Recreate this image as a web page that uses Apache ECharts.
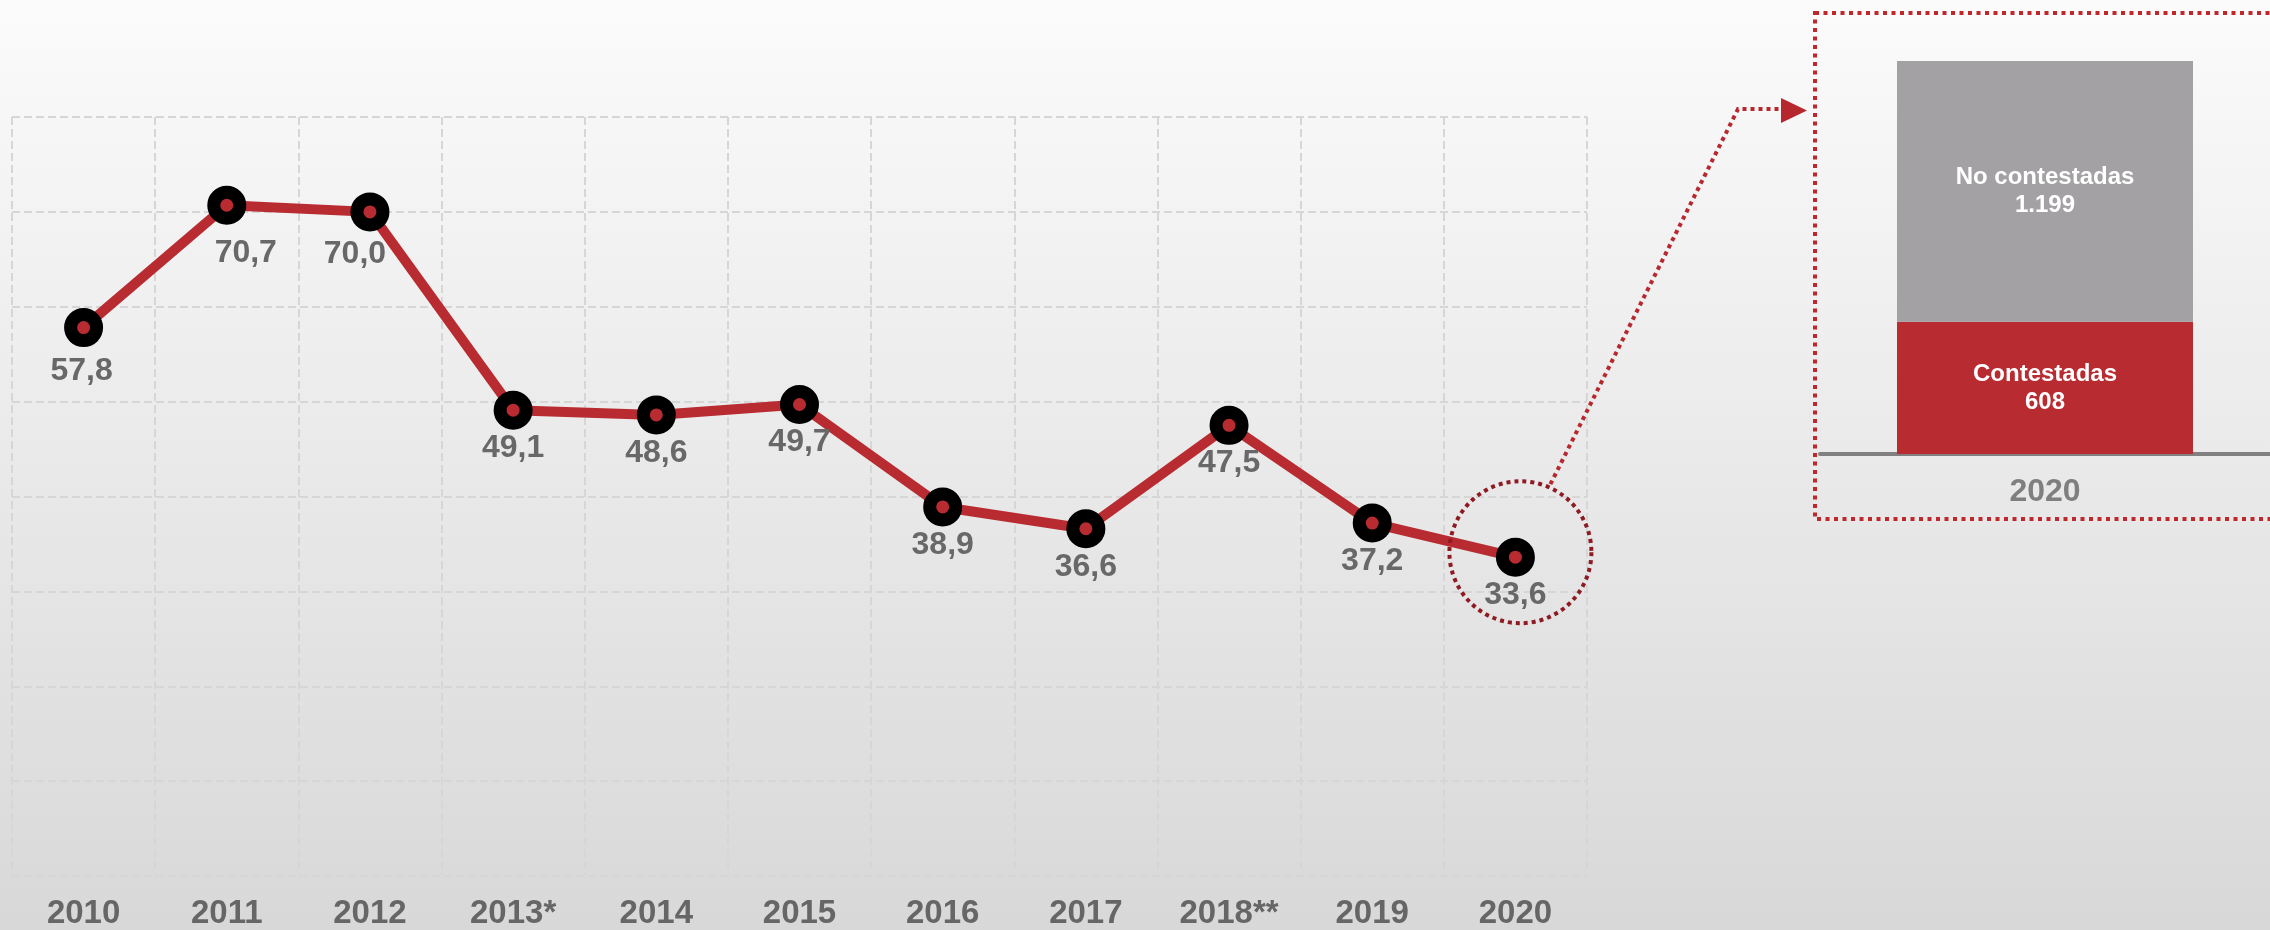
<!DOCTYPE html>
<html>
<head>
<meta charset="utf-8">
<script src="https://cdn.jsdelivr.net/npm/echarts@6/dist/echarts.min.js"></script>
<style>
  html, body { margin: 0; padding: 0; }
  #chart { width: 2270px; height: 930px; }
</style>
</head>
<body>
<div id="chart"></div>
<script>
// datos
const years = ['2010', '2011', '2012', '2013*', '2014', '2015', '2016', '2017', '2018**', '2019', '2020'];
const rates = [57.8, 70.7, 70.0, 49.1, 48.6, 49.7, 38.9, 36.6, 47.5, 37.2, 33.6];
const rateAxis = [0, 80, 10]; // min, max, paso
const barYear = ['2020'];
const contested = [608];
const notContested = [1199];

const RED = '#B82C31';
const FONT = '"Liberation Sans", Arial, sans-serif';

const fmtRate = v => v.toFixed(1).replace('.', ',');
const fmtInt = v => String(v).replace(/\B(?=(\d{3})+(?!\d))/g, '.');

// ajustes de etiquetas que se salen de la posicion normal
const labelShift = { 0: [-2, 44], 1: [19, 48], 2: [-15, 42] };

const chart = echarts.init(document.getElementById('chart'));

const option = {
  animation: false,
  backgroundColor: new echarts.graphic.LinearGradient(0, 0, 0, 1, [
    { offset: 0, color: '#fbfbfb' },
    { offset: 1, color: '#d8d8d8' }
  ]),
  textStyle: { fontFamily: FONT },
  grid: [
    { left: 12, right: 683, top: 117, bottom: 53 },
    { left: 1820, width: 465, top: 61, bottom: 476 }
  ],
  xAxis: [
    {
      type: 'category',
      gridIndex: 0,
      data: years,
      boundaryGap: true,
      axisLine: { show: false },
      axisTick: { show: false },
      axisLabel: {
        interval: 0,
        margin: 21,
        fontSize: 33,
        fontWeight: 'bold',
        color: '#666666',
        fontFamily: FONT
      },
      splitLine: {
        show: true,
        interval: 0,
        lineStyle: { color: '#d6d6d6', width: 2, type: [8, 4] }
      }
    },
    {
      type: 'category',
      gridIndex: 1,
      data: barYear,
      axisLine: { lineStyle: { color: '#808080', width: 4 } },
      axisTick: { show: false },
      axisLabel: {
        margin: 22,
        fontSize: 32,
        fontWeight: 'bold',
        color: '#7f7f7f',
        fontFamily: FONT
      }
    }
  ],
  yAxis: [
    {
      type: 'value',
      gridIndex: 0,
      min: rateAxis[0],
      max: rateAxis[1],
      interval: rateAxis[2],
      axisLine: { show: false },
      axisTick: { show: false },
      axisLabel: { show: false },
      splitLine: { lineStyle: { color: '#d6d6d6', width: 2, type: [8, 4] } }
    },
    {
      type: 'value',
      gridIndex: 1,
      min: 0,
      max: contested[0] + notContested[0],
      show: false,
      splitLine: { show: false }
    }
  ],
  series: [
    {
      type: 'line',
      xAxisIndex: 0,
      yAxisIndex: 0,
      data: rates.map((v, i) => {
        const item = { value: v };
        if (labelShift[i]) item.label = { offset: labelShift[i] };
        return item;
      }),
      z: 5,
      symbol: 'circle',
      symbolSize: 26,
      lineStyle: { color: RED, width: 10 },
      itemStyle: { color: RED, borderColor: '#000', borderWidth: 13 },
      label: {
        show: true,
        position: 'inside',
        offset: [0, 38],
        fontSize: 32,
        fontWeight: 'bold',
        color: '#686868',
        fontFamily: FONT,
        formatter: p => fmtRate(p.value)
      },
      emphasis: { disabled: true }
    },
    {
      name: 'Contestadas',
      type: 'bar',
      xAxisIndex: 1,
      yAxisIndex: 1,
      stack: 'total',
      barWidth: 296,
      data: contested,
      itemStyle: { color: RED },
      label: {
        show: true,
        position: 'inside',
        fontSize: 24,
        lineHeight: 28,
        fontWeight: 'bold',
        color: '#fff',
        fontFamily: FONT,
        formatter: p => p.seriesName + '\n' + fmtInt(p.value)
      },
      emphasis: { disabled: true }
    },
    {
      name: 'No contestadas',
      type: 'bar',
      xAxisIndex: 1,
      yAxisIndex: 1,
      stack: 'total',
      barWidth: 296,
      data: notContested,
      itemStyle: { color: '#a3a1a3' },
      label: {
        show: true,
        position: 'inside',
        fontSize: 24,
        lineHeight: 28,
        fontWeight: 'bold',
        color: '#fff',
        fontFamily: FONT,
        formatter: p => p.seriesName + '\n' + fmtInt(p.value)
      },
      emphasis: { disabled: true }
    }
  ]
};

chart.setOption(option);

// circulo punteado alrededor del ultimo punto y flecha hacia el detalle
const last = rates.length - 1;
const pt = chart.convertToPixel({ xAxisIndex: 0, yAxisIndex: 0 }, [last, rates[last]]);
const cx = pt[0] + 5, cy = pt[1] - 5;

chart.setOption({
  graphic: [
    {
      type: 'circle',
      shape: { cx: cx, cy: cy, r: 71 },
      style: { fill: null, stroke: '#8e1b22', lineWidth: 4, lineDash: [4, 4] },
      z: 10
    },
    {
      type: 'polyline',
      shape: { points: [[cx + 30, cy - 68], [1738, 109], [1779, 109]] },
      style: { fill: null, stroke: '#b7282e', lineWidth: 4, lineDash: [4, 4] },
      z: 10
    },
    {
      type: 'polygon',
      shape: { points: [[1781, 98], [1807, 110.5], [1781, 123]] },
      style: { fill: '#b7282e' },
      z: 10
    },
    {
      type: 'rect',
      shape: { x: 1815, y: 13, width: 600, height: 506 },
      style: { fill: null, stroke: '#c0272d', lineWidth: 4, lineDash: [4, 4.5] },
      z: 10
    }
  ]
});
</script>
</body>
</html>
